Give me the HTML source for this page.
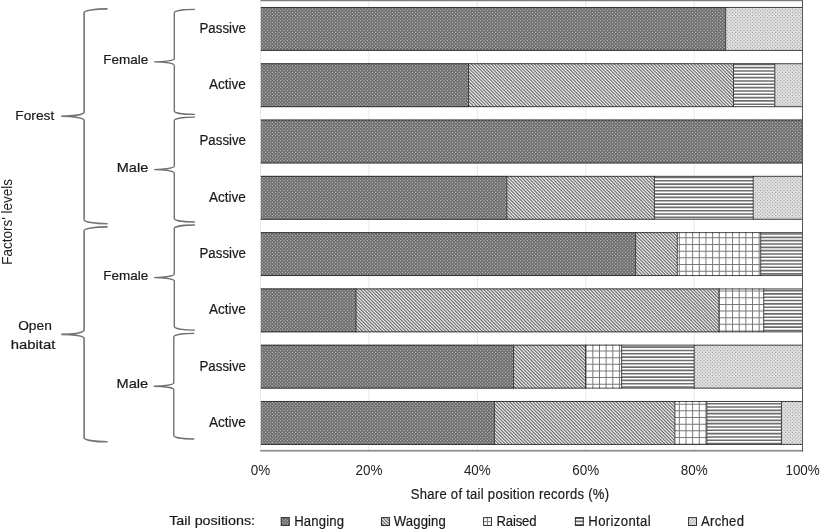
<!DOCTYPE html>
<html lang="en"><head><meta charset="utf-8"><title>Tail positions by habitat, sex and activity</title>
<style>html,body{margin:0;padding:0;background:#fff;overflow:hidden}svg{display:block;font-family:"Liberation Sans",Arial,sans-serif;fill:#262626}</style></head>
<body>
<svg width="820" height="529" viewBox="0 0 820 529">
<defs>
<pattern id="pH" width="10" height="10" patternUnits="userSpaceOnUse" x="0.0" y="0.0"><rect width="10" height="10" fill="#6c6c6c"/><g fill="#d4d4d4"><rect x="0.2" y="0.2" width="1" height="1"/><rect x="3.53" y="0.2" width="1" height="1"/><rect x="6.87" y="0.2" width="1" height="1"/><rect x="1.87" y="1.87" width="1" height="1"/><rect x="5.2" y="1.87" width="1" height="1"/><rect x="8.53" y="1.87" width="1" height="1"/><rect x="0.2" y="3.53" width="1" height="1"/><rect x="3.53" y="3.53" width="1" height="1"/><rect x="6.87" y="3.53" width="1" height="1"/><rect x="1.87" y="5.2" width="1" height="1"/><rect x="5.2" y="5.2" width="1" height="1"/><rect x="8.53" y="5.2" width="1" height="1"/><rect x="0.2" y="6.87" width="1" height="1"/><rect x="3.53" y="6.87" width="1" height="1"/><rect x="6.87" y="6.87" width="1" height="1"/><rect x="1.87" y="8.53" width="1" height="1"/><rect x="5.2" y="8.53" width="1" height="1"/><rect x="8.53" y="8.53" width="1" height="1"/></g></pattern>
<pattern id="pA" width="10" height="10" patternUnits="userSpaceOnUse" x="0.0" y="0.0"><rect width="10" height="10" fill="#e3e3e3"/><g fill="#8c8c8c"><rect x="0.2" y="0.2" width="1" height="1"/><rect x="3.53" y="0.2" width="1" height="1"/><rect x="6.87" y="0.2" width="1" height="1"/><rect x="1.87" y="1.87" width="1" height="1"/><rect x="5.2" y="1.87" width="1" height="1"/><rect x="8.53" y="1.87" width="1" height="1"/><rect x="0.2" y="3.53" width="1" height="1"/><rect x="3.53" y="3.53" width="1" height="1"/><rect x="6.87" y="3.53" width="1" height="1"/><rect x="1.87" y="5.2" width="1" height="1"/><rect x="5.2" y="5.2" width="1" height="1"/><rect x="8.53" y="5.2" width="1" height="1"/><rect x="0.2" y="6.87" width="1" height="1"/><rect x="3.53" y="6.87" width="1" height="1"/><rect x="6.87" y="6.87" width="1" height="1"/><rect x="1.87" y="8.53" width="1" height="1"/><rect x="5.2" y="8.53" width="1" height="1"/><rect x="8.53" y="8.53" width="1" height="1"/></g></pattern>
<clipPath id="cW"><rect x="468.5" y="63.34" width="265" height="43.75"/><rect x="506.8" y="175.92" width="147.6" height="43.75"/><rect x="635.6" y="232.21" width="41.7" height="43.75"/><rect x="356" y="288.5" width="363" height="43.75"/><rect x="513.5" y="344.79" width="72" height="43.75"/><rect x="494.4" y="401.08" width="180.5" height="43.75"/></clipPath>
<clipPath id="cR"><rect x="677.3" y="232.21" width="83.4" height="43.75"/><rect x="719" y="288.5" width="44.7" height="43.75"/><rect x="585.5" y="344.79" width="36.1" height="43.75"/><rect x="674.9" y="401.08" width="31.9" height="43.75"/></clipPath>
<clipPath id="cZ"><rect x="733.5" y="63.34" width="41.3" height="43.75"/><rect x="654.4" y="175.92" width="98.8" height="43.75"/><rect x="760.7" y="232.21" width="41.9" height="43.75"/><rect x="763.7" y="288.5" width="38.9" height="43.75"/><rect x="621.6" y="344.79" width="72.6" height="43.75"/><rect x="706.8" y="401.08" width="74.65" height="43.75"/></clipPath>
</defs>
<rect width="820" height="529" fill="#fff"/>
<g stroke="#dedede" stroke-width="0.7" fill="none">
<line x1="260.5" y1="0.7" x2="260.5" y2="451.0"/>
<line x1="368.92" y1="0.7" x2="368.92" y2="451.0"/>
<line x1="477.34" y1="0.7" x2="477.34" y2="451.0"/>
<line x1="585.76" y1="0.7" x2="585.76" y2="451.0"/>
<line x1="694.18" y1="0.7" x2="694.18" y2="451.0"/>
</g>
<rect x="260.5" y="0" width="542.1" height="1.25" fill="#7d7d7d"/>
<rect x="260.2" y="449.9" width="542.9" height="1.7" fill="#8c8c8c"/>
<g fill="url(#pH)"><rect x="260.8" y="7.05" width="464.9" height="43.75"/><rect x="260.8" y="63.34" width="207.7" height="43.75"/><rect x="260.8" y="119.63" width="541.8" height="43.75"/><rect x="260.8" y="175.92" width="246" height="43.75"/><rect x="260.8" y="232.21" width="374.8" height="43.75"/><rect x="260.8" y="288.5" width="95.2" height="43.75"/><rect x="260.8" y="344.79" width="252.7" height="43.75"/><rect x="260.8" y="401.08" width="233.6" height="43.75"/></g>
<g fill="url(#pA)"><rect x="725.7" y="7.05" width="76.9" height="43.75"/><rect x="774.8" y="63.34" width="27.8" height="43.75"/><rect x="753.2" y="175.92" width="49.4" height="43.75"/><rect x="694.2" y="344.79" width="108.4" height="43.75"/><rect x="781.45" y="401.08" width="21.15" height="43.75"/></g>
<g clip-path="url(#cW)"><rect x="250" y="0" width="570" height="529" fill="#f6f6f6"/><line x1="-400" y1="0" x2="1200" y2="0" stroke="#757575" stroke-width="1700" stroke-dasharray="1.28 1.0725" transform="translate(530 260) rotate(-45)"/></g>
<g clip-path="url(#cZ)"><rect x="250" y="0" width="570" height="529" fill="#ffffff"/><line x1="540" y1="0.310" x2="540" y2="529" stroke="#6e6e6e" stroke-width="600" stroke-dasharray="1.62 1.7070"/></g>
<g clip-path="url(#cR)"><rect x="250" y="0" width="570" height="529" fill="#fff"/><line x1="540" y1="4.478" x2="540" y2="529" stroke="#7a7a7a" stroke-width="600" stroke-dasharray="1 5.6540"/><line x1="0.114" y1="260" x2="820" y2="260" stroke="#7a7a7a" stroke-width="540" stroke-dasharray="1 5.6540"/></g>
<g stroke="#1c1c1c" stroke-width="0.8" fill="none">
<path d="M260.8 7.45H802.6M260.8 50.4H802.6M725.7 7.05V50.8"/>
<path d="M260.8 63.74H802.6M260.8 106.69H802.6M468.5 63.34V107.09M733.5 63.34V107.09M774.8 63.34V107.09"/>
<path d="M260.8 120.03H802.6M260.8 162.98H802.6"/>
<path d="M260.8 176.32H802.6M260.8 219.27H802.6M506.8 175.92V219.67M654.4 175.92V219.67M753.2 175.92V219.67"/>
<path d="M260.8 232.61H802.6M260.8 275.56H802.6M635.6 232.21V275.96M677.3 232.21V275.96M760.7 232.21V275.96"/>
<path d="M260.8 288.9H802.6M260.8 331.85H802.6M356 288.5V332.25M719 288.5V332.25M763.7 288.5V332.25"/>
<path d="M260.8 345.19H802.6M260.8 388.14H802.6M513.5 344.79V388.54M585.5 344.79V388.54M621.6 344.79V388.54M694.2 344.79V388.54"/>
<path d="M260.8 401.48H802.6M260.8 444.43H802.6M494.4 401.08V444.83M674.9 401.08V444.83M706.8 401.08V444.83M781.45 401.08V444.83"/>
</g>
<rect x="802" y="0" width="1.0" height="451.5" fill="#555"/>
<rect x="280.8" y="517.1" width="8.9" height="8.9" fill="url(#pH)"/>
<rect x="281.3" y="517.6" width="7.9" height="7.9" fill="none" stroke="#333333" stroke-width="1"/>
<rect x="381" y="517.1" width="8.9" height="8.9" fill="#f6f6f6"/>
<path d="M381 525.88L381.12 526M381 522.55L384.45 526M381 519.23L387.77 526M382.2 517.1L389.9 524.8M385.53 517.1L389.9 521.47M388.85 517.1L389.9 518.15" stroke="#757575" stroke-width="1.28" fill="none"/>
<rect x="381.5" y="517.6" width="7.9" height="7.9" fill="none" stroke="#333333" stroke-width="1"/>
<rect x="483.1" y="517.1" width="8.9" height="8.9" fill="#fff"/>
<path d="M483.1 521.7H492M487.4 517.1V526" stroke="#7a7a7a" stroke-width="1" fill="none"/>
<rect x="483.6" y="517.6" width="7.9" height="7.9" fill="none" stroke="#333333" stroke-width="1"/>
<rect x="574.9" y="517.1" width="8.9" height="8.9" fill="#fff"/>
<path d="M574.9 518.1H583.8M574.9 521.43H583.8M574.9 524.75H583.8" stroke="#6e6e6e" stroke-width="1.62" fill="none"/>
<rect x="575.4" y="517.6" width="7.9" height="7.9" fill="none" stroke="#333333" stroke-width="1"/>
<rect x="688.1" y="517.1" width="8.9" height="8.9" fill="url(#pA)"/>
<rect x="688.6" y="517.6" width="7.9" height="7.9" fill="none" stroke="#333333" stroke-width="1"/>
<g fill="none" stroke="#747474" stroke-width="1.6" stroke-linecap="round">
<path d="M107 8.9A22.9 4 0 0 0 84.1 12.9V112.3A22.9 4 0 0 1 61.2 116.3A22.9 4 0 0 1 84.1 120.3V219.7A22.9 4 0 0 0 107 223.7"/>
<path d="M107 226.9A22.9 4 0 0 0 84.1 230.9V330.35A22.9 4 0 0 1 61.2 334.35A22.9 4 0 0 1 84.1 338.35V437.8A22.9 4 0 0 0 107 441.8"/>
</g>
<g fill="none" stroke="#6e6e6e" stroke-width="1.35" stroke-linecap="round">
<path d="M194.4 9.4A20.1 3.5 0 0 0 174.3 12.9V58.4A20.1 3.5 0 0 1 154.2 61.9A20.1 3.5 0 0 1 174.3 65.4V110.9A20.1 3.5 0 0 0 194.4 114.4"/>
<path d="M194.4 117.1A20.1 3.5 0 0 0 174.3 120.6V166.05A20.1 3.5 0 0 1 154.2 169.55A20.1 3.5 0 0 1 174.3 173.05V218.5A20.1 3.5 0 0 0 194.4 222"/>
<path d="M194.4 225A20.1 3.5 0 0 0 174.3 228.5V274.05A20.1 3.5 0 0 1 154.2 277.55A20.1 3.5 0 0 1 174.3 281.05V326.6A20.1 3.5 0 0 0 194.4 330.1"/>
<path d="M193.8 333.4A20 3.5 0 0 0 173.8 336.9V382.7A20 3.5 0 0 1 153.8 386.2A20 3.5 0 0 1 173.8 389.7V435.5A20 3.5 0 0 0 193.8 439"/>
</g>
<g fill="#1a1a1a" stroke="#1a1a1a" stroke-width="0.2" stroke-linejoin="round">
<text transform="translate(12.4 221.8) rotate(-90) scale(0.93 1)" font-size="14.5" text-anchor="middle" stroke="none" fill="#222">Factors' levels</text>
<text x="15.3" y="120.1" font-size="13.1" text-anchor="start" textLength="38.9" lengthAdjust="spacingAndGlyphs">Forest</text>
<text x="18.2" y="330.3" font-size="13.1" text-anchor="start" textLength="33.6" lengthAdjust="spacingAndGlyphs">Open</text>
<text x="10.7" y="349" font-size="13.1" text-anchor="start" textLength="44.6" lengthAdjust="spacingAndGlyphs">habitat</text>
<text x="103.2" y="64" font-size="13.1" text-anchor="start" textLength="45" lengthAdjust="spacingAndGlyphs">Female</text>
<text x="116.8" y="172.2" font-size="13.1" text-anchor="start" textLength="31.4" lengthAdjust="spacingAndGlyphs">Male</text>
<text x="103.2" y="279.7" font-size="13.1" text-anchor="start" textLength="45" lengthAdjust="spacingAndGlyphs">Female</text>
<text x="116.6" y="388.4" font-size="13.1" text-anchor="start" textLength="31.6" lengthAdjust="spacingAndGlyphs">Male</text>
<text x="199.5" y="32.8" font-size="13.8" text-anchor="start" textLength="46.5" lengthAdjust="spacingAndGlyphs">Passive</text>
<text x="208.9" y="89.09" font-size="13.8" text-anchor="start" textLength="37" lengthAdjust="spacingAndGlyphs">Active</text>
<text x="199.5" y="145.38" font-size="13.8" text-anchor="start" textLength="46.5" lengthAdjust="spacingAndGlyphs">Passive</text>
<text x="208.9" y="201.67" font-size="13.8" text-anchor="start" textLength="37" lengthAdjust="spacingAndGlyphs">Active</text>
<text x="199.5" y="257.96" font-size="13.8" text-anchor="start" textLength="46.5" lengthAdjust="spacingAndGlyphs">Passive</text>
<text x="208.9" y="314.25" font-size="13.8" text-anchor="start" textLength="37" lengthAdjust="spacingAndGlyphs">Active</text>
<text x="199.5" y="370.54" font-size="13.8" text-anchor="start" textLength="46.5" lengthAdjust="spacingAndGlyphs">Passive</text>
<text x="208.9" y="426.83" font-size="13.8" text-anchor="start" textLength="37" lengthAdjust="spacingAndGlyphs">Active</text>
<text transform="translate(260.5 475.2) scale(0.955 1)" font-size="14.1" text-anchor="middle" stroke="none" fill="#222">0%</text>
<text transform="translate(368.92 475.2) scale(0.955 1)" font-size="14.1" text-anchor="middle" stroke="none" fill="#222">20%</text>
<text transform="translate(477.34 475.2) scale(0.955 1)" font-size="14.1" text-anchor="middle" stroke="none" fill="#222">40%</text>
<text transform="translate(585.76 475.2) scale(0.955 1)" font-size="14.1" text-anchor="middle" stroke="none" fill="#222">60%</text>
<text transform="translate(694.18 475.2) scale(0.955 1)" font-size="14.1" text-anchor="middle" stroke="none" fill="#222">80%</text>
<text transform="translate(802.6 475.2) scale(0.955 1)" font-size="14.1" text-anchor="middle" stroke="none" fill="#222">100%</text>
<text transform="translate(410.8 498.8) scale(0.9 1)" font-size="14.5" text-anchor="start" textLength="220.22" lengthAdjust="spacing">Share of tail position records (%)</text>
<text x="169.2" y="524.5" font-size="13.6" text-anchor="start" textLength="85.9" lengthAdjust="spacingAndGlyphs">Tail positions:</text>
<text transform="translate(294.2 525.8) scale(0.9 1)" font-size="14.6" text-anchor="start" textLength="55.33" lengthAdjust="spacing">Hanging</text>
<text transform="translate(393.8 525.8) scale(0.9 1)" font-size="14.6" text-anchor="start" textLength="57.78" lengthAdjust="spacing">Wagging</text>
<text transform="translate(496.4 525.8) scale(0.9 1)" font-size="14.6" text-anchor="start" textLength="44.67" lengthAdjust="spacing">Raised</text>
<text transform="translate(588.3 525.8) scale(0.9 1)" font-size="14.6" text-anchor="start" textLength="69.33" lengthAdjust="spacing">Horizontal</text>
<text transform="translate(700.9 525.8) scale(0.9 1)" font-size="14.6" text-anchor="start" textLength="47.89" lengthAdjust="spacing">Arched</text>
</g>
</svg>
</body></html>
